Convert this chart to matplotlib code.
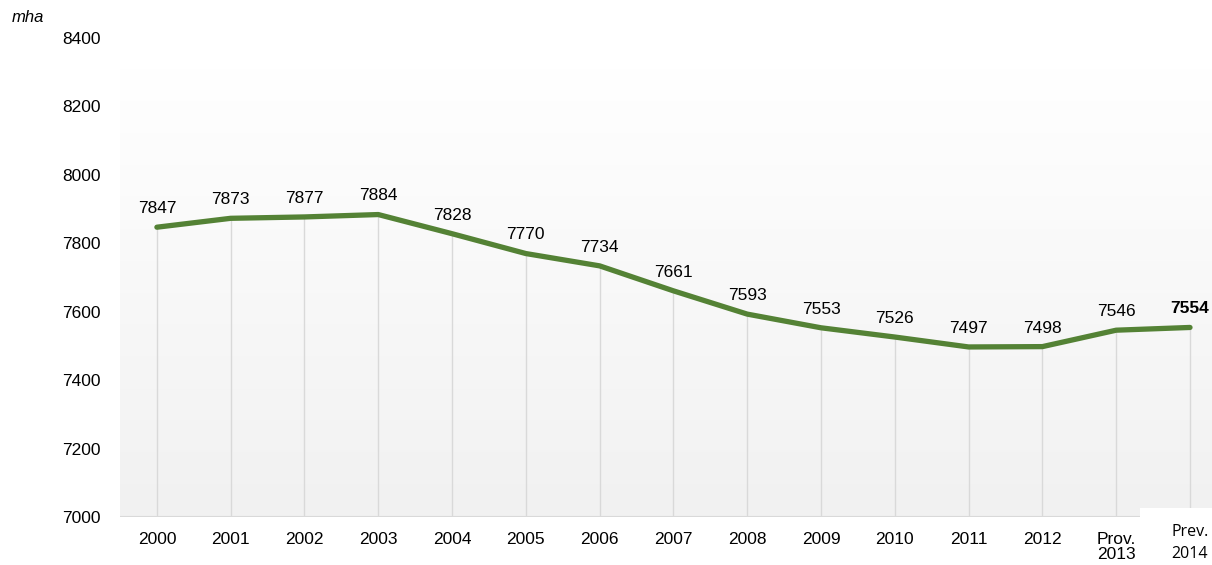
import matplotlib
matplotlib.use("Agg")
import matplotlib.pyplot as plt
import numpy as np
from matplotlib.patches import Rectangle
from matplotlib.colors import LinearSegmentedColormap

categories = ["2000", "2001", "2002", "2003", "2004", "2005", "2006", "2007",
              "2008", "2009", "2010", "2011", "2012", "Prov.\n2013", "Prev.\n2014"]
values = [7847, 7873, 7877, 7884, 7828, 7770, 7734, 7661, 7593, 7553, 7526,
          7497, 7498, 7546, 7554]
yticks = [7000, 7200, 7400, 7600, 7800, 8000, 8200, 8400]
unit_label = "mha"

plt.rcParams['font.family'] = ['Liberation Sans', 'DejaVu Sans']

W, H = 1212, 565
fig = plt.figure(figsize=(W / 100, H / 100), dpi=100)
ax = fig.add_axes([120 / W, 1 - 517 / H, 1 - 120 / W, (517 - 38) / H])

x = np.arange(len(categories))
step = 73.8
xmax = (len(categories) - 1) + (W - 1190) / step
ax.set_xlim(-0.5, xmax)
ax.set_ylim(7000, 8400)

# gradient background (plot area starts a bit below the top tick)
grad_top = 8400 - (68 - 38) / ((517 - 38) / 1400)
grad = np.linspace(0, 1, 256).reshape(-1, 1)
cmap = LinearSegmentedColormap.from_list("g", ["#f1f1f1", "#ffffff"])
ax.imshow(grad, aspect="auto", cmap=cmap, origin="lower",
          extent=[-0.5, xmax, 7000, grad_top], zorder=0)

# drop lines
ax.vlines(x, 7000, values, colors="#d9d9d9", linewidth=1.0, zorder=1)
ax.axhline(7000, color="#d9d9d9", linewidth=1.5, zorder=2)

ax.plot(x, values, color="#548235", linewidth=3.8, solid_capstyle="round",
        solid_joinstyle="round", zorder=3)

for i, v in enumerate(values):
    last = i == len(values) - 1
    ax.annotate(str(v), (x[i], v), xytext=(0, 8), textcoords="offset points",
                ha="center", va="bottom", fontsize=12.5,
                fontweight="bold" if last else "normal", color="#000000", zorder=4)

for s in ax.spines.values():
    s.set_visible(False)
ax.set_yticks(yticks)
ax.set_yticklabels([str(t) for t in yticks], fontsize=12.5)
ax.tick_params(axis="y", length=0, pad=14)
ax.set_xticks(x[:-1])
ax.set_xticklabels(categories[:-1], fontsize=12.5, linespacing=1.0)
ax.tick_params(axis="x", length=0, pad=11)

# last category label with white box
fig.patches.append(Rectangle((1140 / W, 0), (W - 1140) / W, (H - 508) / H,
                             transform=fig.transFigure, facecolor="white",
                             edgecolor="none", zorder=5))
fig.text(1190 / W, 1 - 543 / H, categories[-1], ha="center", va="center",
         fontsize=11.5, family=["Open Sans", "DejaVu Sans"], linespacing=1.45,
         zorder=6)

fig.text(12 / W, 1 - 18 / H, unit_label, fontsize=12, style="italic",
         ha="left", va="center")

fig.savefig("out.png", dpi=100)
